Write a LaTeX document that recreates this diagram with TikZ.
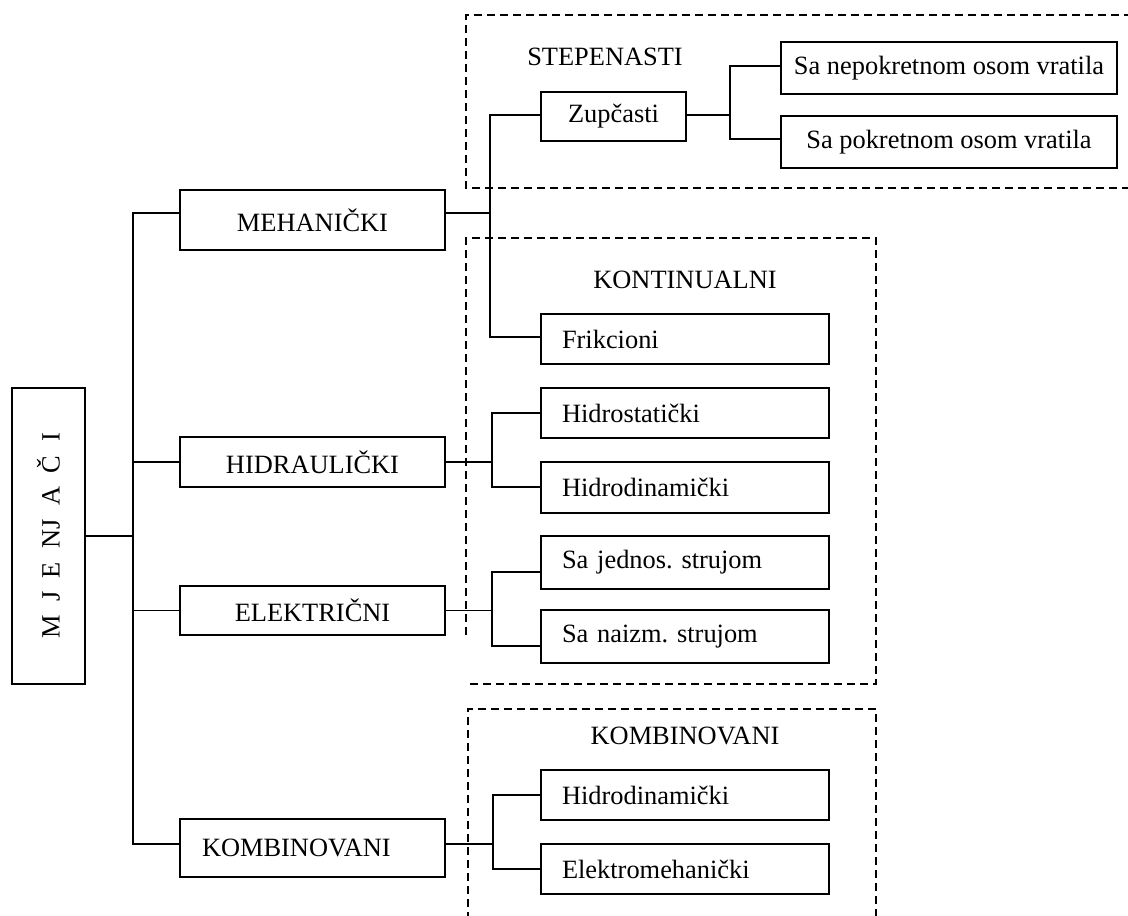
\documentclass[tikz,border=0pt]{standalone}
\usepackage{fontspec}
\setmainfont{Liberation Serif}
\newcommand\dfs{\fontsize{26.4}{30}\selectfont}
\newcommand\lgap{\hspace{13.5pt}}
\frenchspacing
\begin{document}
\begin{tikzpicture}[x=1pt,y=-1pt,
  box/.style={draw, line width=1.6pt, font=\dfs, inner sep=0pt},
  lbox/.style={box, minimum width=288pt, text width=246pt, inner xsep=21pt, align=left},
  wire/.style={line width=1.6pt},
  group/.style={line width=1.5pt, dash pattern=on 8pt off 5pt},
  title/.style={font=\dfs, inner sep=0pt}]
\useasboundingbox (0,0) rectangle (1128,916);

% group frames
\draw[group] (1132,15) -- (466,15) -- (466,188) -- (1132,188);
\draw[group] (466,635) -- (466,238) -- (876,238) -- (876,684) -- (466,684);
\draw[group] (468,920) -- (468,709) -- (876,709) -- (876,920);

\node[title] (tstep) at (605,57) {STEPENASTI};
\node[title] (tkont) at (685,280) {KONTINUALNI};
\node[title] (tkomb) at (685,736) {KOMBINOVANI};

% root
\node[box, minimum width=73pt, minimum height=296pt] (mj) at (48.5,536)
  {\rotatebox{90}{M\lgap J\lgap E\lgap NJ\lgap A\lgap Č\lgap I}};

% first level
\node[box, minimum width=265pt, minimum height=60pt] (mech) at (312.5,220) {MEHANIČKI};
\node[box, minimum width=265pt, minimum height=50pt] (hidr) at (312.5,462) {HIDRAULIČKI};
\node[box, minimum width=265pt, minimum height=49pt] (elek) at (312.5,610.5) {ELEKTRIČNI};
\node[box, minimum width=265pt, text width=221pt, inner xsep=22pt, align=left, minimum height=58pt] (komb) at (312.5,848) {KOMBINOVANI};

% mechanical
\node[box, minimum width=145pt, minimum height=49pt] (zup) at (613.5,116.5) {Zupčasti};
\node[box, minimum width=336pt, minimum height=52pt] (sanep) at (949,68) {Sa nepokretnom osom vratila};
\node[box, minimum width=336pt, minimum height=52pt] (sapok) at (949,142) {Sa pokretnom osom vratila};
\node[lbox, minimum height=50pt] (frik) at (685,339) {Frikcioni};

% hydraulic
\node[lbox, minimum height=50pt] (hst) at (685,413) {Hidrostatički};
\node[lbox, minimum height=51pt] (hdn) at (685,487.5) {Hidrodinamički};

% electric
\node[lbox, minimum height=53pt] (sje) at (685,562.5) {Sa jednos. strujom};
\node[lbox, minimum height=53pt] (sna) at (685,636.5) {Sa naizm. strujom};

% combined
\node[lbox, minimum height=50pt] (hdn2) at (685,795) {Hidrodinamički};
\node[lbox, minimum height=50pt] (elm) at (685,869) {Elektromehanički};

% junction points
\coordinate (tr1) at (133,213);
\coordinate (tr4) at (133,844);
\coordinate (m1) at (490,115);
\coordinate (m2) at (490,337);
\coordinate (z1) at (730,66);
\coordinate (z2) at (730,139);
\coordinate (h1) at (492,413);
\coordinate (h2) at (492,487);
\coordinate (e1) at (492,572);
\coordinate (e2) at (492,646);
\coordinate (k1) at (493,795);
\coordinate (k2) at (493,869);

% trunk
\draw[wire] (mj.east) -- (mj.east -| tr1);
\draw[wire] (mech.west |- tr1) -- (tr1) -- (tr4) -- (komb.west |- tr4);
\draw[wire] (tr1 |- hidr) -- (hidr.west);
\draw[wire] (tr1 |- elek) -- (elek.west);

% mechanical branch
\draw[wire] (mech.east |- tr1) -- (m1 |- tr1);
\draw[wire] (zup.west |- m1) -- (m1) -- (m2) -- (frik.west |- m2);
\draw[wire] (zup.east |- m1) -- (z1 |- m1);
\draw[wire] (sanep.west |- z1) -- (z1) -- (z2) -- (sapok.west |- z2);

% hydraulic branch
\draw[wire] (hidr.east) -- (h1 |- hidr);
\draw[wire] (hst.west |- h1) -- (h1) -- (h2) -- (hdn.west |- h2);

% electric branch
\draw[wire] (elek.east) -- (e1 |- elek);
\draw[wire] (sje.west |- e1) -- (e1) -- (e2) -- (sna.west |- e2);

% combined branch
\draw[wire] (komb.east |- tr4) -- (k1 |- tr4);
\draw[wire] (hdn2.west |- k1) -- (k1) -- (k2) -- (elm.west |- k2);
\end{tikzpicture}
\end{document}
